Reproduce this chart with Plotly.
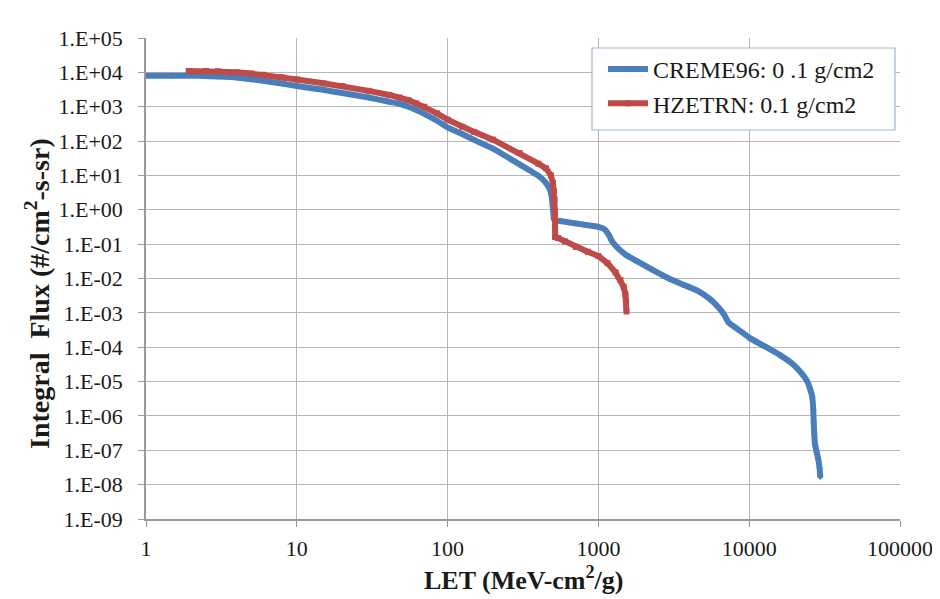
import plotly.graph_objects as go

# ---------------- data ----------------
creme_let = [1, 1.5, 2.3, 3, 4, 5, 6, 8, 10, 15, 20, 30, 41, 48, 55, 62, 70, 85, 100,
             125, 150, 200, 300, 360, 410, 450, 475, 490, 497, 502, 506, 515, 560, 637,
             800, 1000, 1100, 1170, 1220, 1300, 1510, 1800, 2270, 2930, 3600, 4600, 5500,
             6200, 6800, 7300, 8500, 10000, 13000, 16300, 19500, 22100, 24000, 25400,
             26200, 26600, 26800, 27000, 27300, 28000, 28700, 29300, 29600]
creme_flux = [8000, 8000, 7900, 7600, 7100, 6300, 5700, 4700, 4000, 3100, 2500, 1850,
              1400, 1220, 1000, 800, 620, 390, 250,
              160, 108, 60, 21, 13, 9, 6, 4, 2.5, 1.3, 0.9, 0.55, 0.5, 0.47, 0.43,
              0.37, 0.32, 0.27, 0.19, 0.13, 0.09, 0.05, 0.032, 0.018, 0.01, 0.0068, 0.0043,
              0.0025, 0.0015, 9e-4, 5.2e-4, 3.2e-4, 1.9e-4, 1.0e-4, 5.6e-5, 3.2e-5, 1.8e-5,
              1.1e-5, 6e-6, 3.5e-6, 1.5e-6, 6e-7, 3e-7, 1.5e-7, 9e-8, 5.5e-8, 3e-8, 1.7e-8]

hze_let = [1.92, 2.5, 3, 4, 5, 6, 8, 10, 15, 20, 30, 41, 48, 55, 62, 70, 85, 100, 125,
           150, 200, 300, 400, 450, 484, 500, 507, 512, 515, 516, 517, 540, 600, 708,
           850, 1000, 1150, 1300, 1400, 1470, 1510, 1525, 1535]
hze_flux = [11000, 11000, 10800, 10000, 9200, 8500, 7200, 6200, 4800, 4000, 2900, 2200,
            1850, 1550, 1250, 1000, 640, 420, 260,
            185, 110, 45, 22, 16, 10, 6, 3.5, 2, 0.9, 0.3, 0.16, 0.15, 0.12, 0.083,
            0.06, 0.045, 0.028, 0.015, 0.009, 0.0057, 0.0035, 0.0022, 0.0011]

x_tickvals = [1, 10, 100, 1000, 10000, 100000]
x_ticktext = ["1", "10", "100", "1000", "10000", "100000"]
y_exponents = list(range(-9, 6))
y_tickvals = [10.0 ** e for e in y_exponents]
y_ticktext = [("1.E+%02d" % e) if e >= 0 else ("1.E-%02d" % -e) for e in y_exponents]

names = ["CREME96: 0 .1 g/cm2", "HZETRN: 0.1 g/cm2"]
colors = ["#4A7EBB", "#BE4B48"]

FONT = "Liberation Serif"
TXT = "#1a1a1a"

fig = go.Figure()
fig.add_trace(go.Scatter(
    x=creme_let, y=creme_flux, name=names[0], mode="lines+markers",
    line=dict(color=colors[0], width=6, shape="spline", smoothing=0.4), legendgroup="a",
    marker=dict(symbol="diamond", size=5, color=colors[0])))
fig.add_trace(go.Scatter(
    x=hze_let, y=hze_flux, name=names[1], mode="lines+markers",
    line=dict(color=colors[1], width=6), legendgroup="b",
    marker=dict(symbol="square", size=6, color=colors[1])))

# The page places the figure 8 px from the window corner; work in window pixels.
OFF = 8
W, H = 940 - OFF, 599 - OFF
# plot area in window pixels
X0, X1, Y0, Y1 = 146, 900, 38, 519
L, R, T, B = X0 - OFF, W - (X1 - OFF), Y0 - OFF, H - (Y1 - OFF)
pw, ph = X1 - X0, Y1 - Y0


def px(xp):
    return (xp - X0) / pw


def py(yp):
    return (Y1 - yp) / ph


fig.update_layout(
    width=W, height=H,
    margin=dict(l=L, r=R, t=T, b=B, autoexpand=False),
    paper_bgcolor="white", plot_bgcolor="white",
    font=dict(family=FONT, color=TXT),
    showlegend=True,
    legend=dict(
        x=px(603), y=py(47), xanchor="left", yanchor="top",
        borderwidth=0, bgcolor="rgba(0,0,0,0)",
        font=dict(family=FONT, size=24, color=TXT),
        tracegroupgap=12, traceorder="normal",
        itemwidth=40,
    ),
    xaxis=dict(
        type="log", range=[0, 5],
        tickvals=x_tickvals, ticktext=x_ticktext,
        tickfont=dict(family=FONT, size=22, color=TXT),
        showgrid=True, gridcolor="#b5b5b5", gridwidth=1.2,
        showline=True, linecolor="#9a9a9a", linewidth=1.5,
        ticks="outside", ticklen=6, tickcolor="#9a9a9a",
        ticklabelstandoff=3, ticklabeloverflow="allow",
        zeroline=False,
    ),
    yaxis=dict(
        type="log", range=[-9, 5],
        tickvals=y_tickvals, ticktext=y_ticktext,
        tickfont=dict(family=FONT, size=22, color=TXT),
        showgrid=True, gridcolor="#b5b5b5", gridwidth=1.2,
        showline=True, linecolor="#9a9a9a", linewidth=1.5,
        ticks="outside", ticklen=6, tickcolor="#9a9a9a",
        ticklabelstandoff=11, ticklabeloverflow="allow",
        zeroline=False,
    ),
    annotations=[
        dict(text="LET (MeV-cm<sup>2</sup>/g)", xref="paper", yref="paper",
             x=px(523), y=py(578), xanchor="center", yanchor="middle", showarrow=False,
             font=dict(family=FONT, size=26, color=TXT, weight="bold")),
        dict(text="Integral  Flux (#/cm<sup>2</sup>-s-sr)", xref="paper", yref="paper",
             x=px(37), y=py(294), xanchor="center", yanchor="middle", showarrow=False,
             textangle=-90,
             font=dict(family=FONT, size=28, color=TXT, weight="bold")),
    ],
    shapes=[
        # outer chart frame (only its top and left edges are inside the picture)
        dict(type="rect", xref="paper", yref="paper",
             x0=px(7), x1=px(960), y0=py(620), y1=py(5),
             line=dict(color="#a0a0a0", width=1.5), layer="below"),
        # legend box
        dict(type="rect", xref="paper", yref="paper",
             x0=px(592), x1=px(895), y0=py(130), y1=py(48),
             line=dict(color="#9fb6d6", width=1.2), fillcolor="white", layer="above"),
    ],
)

fig.write_html("out.html")
